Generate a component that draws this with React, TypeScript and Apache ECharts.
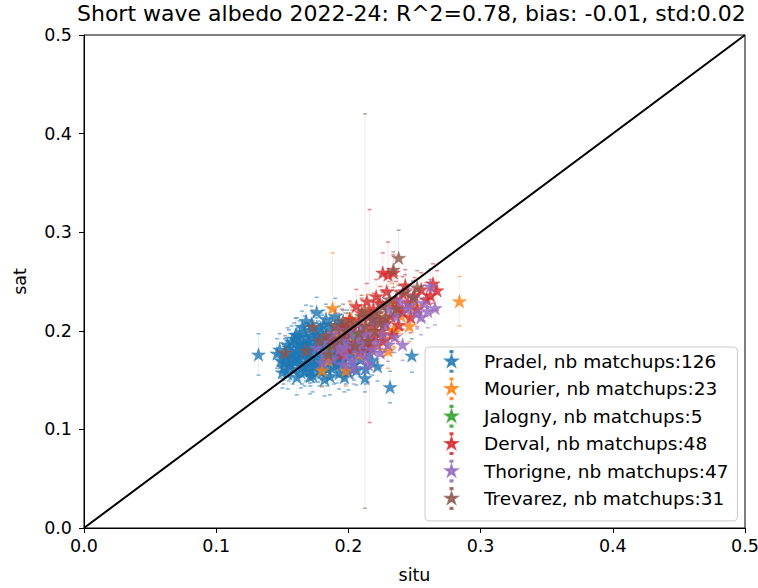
import React, { useEffect, useRef } from "react";
import * as echarts from "echarts";

// [situ, sat, yerr]
const PRADEL: number[][] = [
  [0.132, 0.176, 0.021], [0.176, 0.219, 0.015], [0.151, 0.168, 0.018], [0.163, 0.194, 0.016], [0.248, 0.175, 0.017],
  [0.222, 0.164, 0.015], [0.2125, 0.152, 0.014], [0.2315, 0.143, 0.016], [0.171, 0.167, 0.02],
  [0.154, 0.157, 0.016], [0.161, 0.153, 0.018], [0.167, 0.159, 0.015], [0.173, 0.155, 0.017], [0.180, 0.158, 0.014], [0.186, 0.154, 0.019], [0.193, 0.157, 0.016],
  [0.151, 0.163, 0.017], [0.158, 0.161, 0.015], [0.165, 0.164, 0.018], [0.171, 0.160, 0.016], [0.177, 0.163, 0.015], [0.184, 0.161, 0.017], [0.191, 0.165, 0.018], [0.198, 0.162, 0.016],
  [0.149, 0.170, 0.018], [0.156, 0.167, 0.016], [0.162, 0.171, 0.015], [0.168, 0.166, 0.017], [0.175, 0.169, 0.016], [0.182, 0.172, 0.018], [0.189, 0.168, 0.015], [0.196, 0.171, 0.017], [0.204, 0.166, 0.016],
  [0.153, 0.176, 0.017], [0.159, 0.173, 0.015], [0.166, 0.177, 0.018], [0.172, 0.174, 0.016], [0.179, 0.178, 0.017], [0.186, 0.175, 0.015], [0.193, 0.177, 0.016], [0.200, 0.174, 0.018], [0.209, 0.171, 0.015],
  [0.148, 0.181, 0.016], [0.155, 0.183, 0.018], [0.161, 0.180, 0.015], [0.168, 0.184, 0.017], [0.174, 0.181, 0.016], [0.181, 0.185, 0.015], [0.188, 0.182, 0.018], [0.195, 0.186, 0.016], [0.203, 0.183, 0.017],
  [0.157, 0.189, 0.016], [0.163, 0.187, 0.018], [0.170, 0.190, 0.015], [0.177, 0.188, 0.017], [0.183, 0.192, 0.016], [0.190, 0.189, 0.018], [0.197, 0.193, 0.015],
  [0.160, 0.196, 0.017], [0.167, 0.199, 0.016], [0.173, 0.195, 0.015], [0.180, 0.198, 0.018], [0.187, 0.196, 0.016], [0.194, 0.200, 0.017], [0.201, 0.197, 0.015],
  [0.165, 0.204, 0.016], [0.172, 0.207, 0.018], [0.179, 0.203, 0.015], [0.186, 0.206, 0.017], [0.193, 0.209, 0.016],
  [0.183, 0.212, 0.015], [0.190, 0.215, 0.018],
  [0.158, 0.178, 0.015], [0.164, 0.182, 0.017], [0.170, 0.176, 0.016], [0.176, 0.172, 0.018], [0.163, 0.168, 0.015], [0.169, 0.172, 0.016], [0.175, 0.184, 0.017], [0.171, 0.186, 0.015],
  [0.160, 0.175, 0.018], [0.166, 0.187, 0.016], [0.177, 0.193, 0.017], [0.184, 0.179, 0.015], [0.157, 0.171, 0.016], [0.162, 0.185, 0.018], [0.168, 0.193, 0.015], [0.174, 0.165, 0.017],
  [0.180, 0.167, 0.016], [0.185, 0.170, 0.018], [0.190, 0.178, 0.015], [0.196, 0.180, 0.017], [0.200, 0.188, 0.016], [0.206, 0.179, 0.015], [0.211, 0.185, 0.018], [0.207, 0.192, 0.016],
  [0.215, 0.178, 0.017], [0.218, 0.170, 0.015], [0.213, 0.162, 0.016], [0.200, 0.158, 0.018], [0.206, 0.160, 0.015], [0.154, 0.186, 0.017], [0.159, 0.192, 0.016], [0.152, 0.174, 0.018],
  [0.146, 0.177, 0.015], [0.150, 0.158, 0.016], [0.173, 0.201, 0.017], [0.181, 0.206, 0.015], [0.195, 0.206, 0.016], [0.199, 0.203, 0.018], [0.168, 0.210, 0.016], [0.187, 0.200, 0.015],
  [0.178, 0.160, 0.016], [0.189, 0.163, 0.017], [0.194, 0.168, 0.015], [0.171, 0.154, 0.018], [0.164, 0.158, 0.016], [0.182, 0.151, 0.017], [0.197, 0.153, 0.015], [0.155, 0.165, 0.016],
  [0.161, 0.196, 0.017], [0.192, 0.173, 0.018], [0.202, 0.177, 0.015], [0.188, 0.186, 0.016], [0.176, 0.196, 0.017], [0.169, 0.180, 0.015],
];

const MOURIER: number[][] = [
  [0.284, 0.230, 0.025], [0.188, 0.223, 0.056], [0.226, 0.211, 0.018], [0.234, 0.201, 0.017], [0.233, 0.228, 0.02],
  [0.235, 0.199, 0.016], [0.218, 0.195, 0.018], [0.205, 0.190, 0.017], [0.196, 0.178, 0.016], [0.185, 0.170, 0.018],
  [0.212, 0.205, 0.017], [0.222, 0.185, 0.016], [0.240, 0.215, 0.018], [0.228, 0.192, 0.017], [0.198, 0.160, 0.016],
  [0.180, 0.160, 0.017], [0.208, 0.176, 0.018], [0.246, 0.205, 0.016], [0.215, 0.220, 0.017], [0.192, 0.198, 0.016],
  [0.230, 0.180, 0.018], [0.250, 0.225, 0.017], [0.202, 0.212, 0.016],
];

const JALOGNY: number[][] = [
  [0.195, 0.185, 0.016], [0.205, 0.195, 0.017], [0.185, 0.180, 0.015], [0.210, 0.188, 0.016], [0.200, 0.200, 0.018],
];

const DERVAL: number[][] = [
  [0.230, 0.257, 0.033], [0.226, 0.259, 0.02], [0.264, 0.248, 0.02], [0.267, 0.241, 0.02], [0.241, 0.219, 0.018],
  [0.237, 0.224, 0.017], [0.234, 0.259, 0.018], [0.216, 0.215, 0.108],
  [0.222, 0.212, 0.017], [0.218, 0.205, 0.016], [0.225, 0.200, 0.018], [0.212, 0.198, 0.017], [0.208, 0.210, 0.016],
  [0.203, 0.203, 0.018], [0.198, 0.195, 0.017], [0.214, 0.190, 0.016], [0.220, 0.194, 0.018], [0.228, 0.208, 0.017],
  [0.232, 0.215, 0.016], [0.236, 0.232, 0.018], [0.241, 0.238, 0.017], [0.245, 0.228, 0.016], [0.250, 0.236, 0.018],
  [0.255, 0.242, 0.017], [0.243, 0.246, 0.016], [0.229, 0.240, 0.018], [0.224, 0.228, 0.017], [0.219, 0.222, 0.016],
  [0.210, 0.218, 0.018], [0.205, 0.188, 0.017], [0.200, 0.182, 0.016], [0.195, 0.176, 0.018], [0.190, 0.186, 0.017],
  [0.186, 0.192, 0.016], [0.209, 0.180, 0.018], [0.217, 0.184, 0.017], [0.226, 0.190, 0.016], [0.233, 0.196, 0.018],
  [0.238, 0.206, 0.017], [0.247, 0.214, 0.016], [0.252, 0.222, 0.018], [0.259, 0.232, 0.017], [0.262, 0.236, 0.016],
  [0.214, 0.230, 0.018], [0.206, 0.225, 0.017], [0.196, 0.205, 0.016], [0.201, 0.212, 0.018], [0.221, 0.235, 0.017],
];

const THORIGNE: number[][] = [
  [0.241, 0.186, 0.016], [0.2655, 0.223, 0.017], [0.262, 0.245, 0.018], [0.247, 0.226, 0.017], [0.252, 0.218, 0.016],
  [0.257, 0.228, 0.018], [0.249, 0.234, 0.017], [0.244, 0.222, 0.016], [0.255, 0.214, 0.018], [0.260, 0.220, 0.017],
  [0.239, 0.230, 0.016], [0.236, 0.215, 0.018], [0.231, 0.222, 0.017],
  [0.182, 0.178, 0.016], [0.188, 0.172, 0.018], [0.193, 0.181, 0.017], [0.198, 0.175, 0.016], [0.203, 0.170, 0.018],
  [0.208, 0.178, 0.017], [0.213, 0.173, 0.016], [0.218, 0.181, 0.018], [0.200, 0.186, 0.017], [0.195, 0.190, 0.016],
  [0.190, 0.184, 0.018], [0.185, 0.188, 0.017], [0.206, 0.193, 0.016], [0.211, 0.187, 0.018], [0.216, 0.195, 0.017],
  [0.221, 0.188, 0.016], [0.226, 0.196, 0.018], [0.196, 0.166, 0.017], [0.204, 0.162, 0.016], [0.180, 0.168, 0.018],
  [0.187, 0.196, 0.017], [0.201, 0.199, 0.016], [0.210, 0.204, 0.018], [0.219, 0.210, 0.017], [0.227, 0.206, 0.016],
  [0.176, 0.183, 0.018], [0.192, 0.201, 0.017], [0.224, 0.178, 0.016], [0.215, 0.166, 0.018], [0.230, 0.186, 0.017],
  [0.235, 0.194, 0.016], [0.207, 0.185, 0.018], [0.212, 0.197, 0.017], [0.197, 0.183, 0.016],
];

const TREVAREZ: number[][] = [
  [0.238, 0.274, 0.028], [0.2126, 0.220, 0.2], [0.234, 0.262, 0.018], [0.252, 0.244, 0.017], [0.249, 0.234, 0.016],
  [0.173, 0.204, 0.017], [0.213, 0.205, 0.016], [0.208, 0.198, 0.018], [0.218, 0.212, 0.017], [0.203, 0.208, 0.016],
  [0.198, 0.200, 0.018], [0.222, 0.218, 0.017], [0.226, 0.225, 0.016], [0.231, 0.232, 0.018], [0.243, 0.240, 0.017],
  [0.193, 0.192, 0.016], [0.188, 0.186, 0.018], [0.183, 0.195, 0.017], [0.178, 0.190, 0.016], [0.168, 0.180, 0.018],
  [0.152, 0.178, 0.017], [0.205, 0.185, 0.016], [0.215, 0.190, 0.018], [0.220, 0.200, 0.017], [0.228, 0.214, 0.016],
  [0.236, 0.222, 0.018], [0.196, 0.210, 0.017], [0.190, 0.205, 0.016], [0.210, 0.215, 0.018], [0.224, 0.208, 0.017],
  [0.185, 0.176, 0.016],
];

const STATION_NAMES = [
  "Pradel, nb matchups:126",
  "Mourier, nb matchups:23",
  "Jalogny, nb matchups:5",
  "Derval, nb matchups:48",
  "Thorigne, nb matchups:47",
  "Trevarez, nb matchups:31",
];
const STATION_DATA = [PRADEL, MOURIER, JALOGNY, DERVAL, THORIGNE, TREVAREZ];
const COLORS = ["#1f77b4", "#ff7f0e", "#2ca02c", "#d62728", "#9467bd", "#8c564b"];

const DIAGONAL = [[0, 0], [0.5, 0.5]];
const TITLE = "Short wave albedo 2022-24: R^2=0.78, bias: -0.01, std:0.02";

const STAR_D = "M100,0L122.45,69.1L195.11,69.1L136.33,111.8L158.78,180.9L100,138.2L41.22,180.9L63.67,111.8L4.89,69.1L77.55,69.1Z";
const STAR = "path://" + STAR_D;
const LEGEND_ICON = "path://" + STAR_D + "M82,-80L118,-80L118,-60L82,-60ZM82,260L118,260L118,280L82,280Z";

const FONT = "DejaVu Sans";

export default function App() {
  const ref = useRef<HTMLDivElement>(null);
  useEffect(() => {
    if (!ref.current) return;
    const chart = echarts.init(ref.current, null, { renderer: "svg" });

    const series: any[] = [];
    STATION_NAMES.forEach((name, i) => {
      const color = COLORS[i];
      series.push({
        type: "custom",
        name: name + " err",
        silent: true,
        data: STATION_DATA[i],
        encode: { x: 0, y: 1 },
        renderItem: (params: any, api: any) => {
          const x = api.value(0);
          const y = api.value(1);
          const e = api.value(2);
          const top = api.coord([x, y + e]);
          const bot = api.coord([x, y - e]);
          const cx = top[0];
          return {
            type: "group",
            children: [
              { type: "line", shape: { x1: cx, y1: top[1], x2: cx, y2: bot[1] }, style: { stroke: color, lineWidth: 1, opacity: 0.12 } },
              { type: "line", shape: { x1: cx - 2, y1: top[1], x2: cx + 2, y2: top[1] }, style: { stroke: color, lineWidth: 1.5, opacity: 0.55 } },
              { type: "line", shape: { x1: cx - 2, y1: bot[1], x2: cx + 2, y2: bot[1] }, style: { stroke: color, lineWidth: 1.5, opacity: 0.55 } },
            ],
          };
        },
      });
      series.push({
        type: "scatter",
        name,
        data: STATION_DATA[i].map((d) => [d[0], d[1]]),
        symbol: STAR,
        symbolSize: 14,
        symbolKeepAspect: true,
        itemStyle: { color, borderColor: color, borderWidth: 0.5 },
      });
    });
    series.push({
      type: "line",
      name: "diag",
      data: DIAGONAL,
      symbol: "none",
      silent: true,
      lineStyle: { color: "#000", width: 2 },
      z: 5,
    });

    const axisCommon = {
      type: "value",
      min: 0,
      max: 0.5,
      interval: 0.1,
      splitLine: { show: false },
      axisLine: { show: true, onZero: false, lineStyle: { color: "#000", width: 1 } },
      axisTick: { show: true, inside: false, length: 5, lineStyle: { color: "#000" } },
      axisLabel: {
        color: "#000",
        fontFamily: FONT,
        fontSize: 17.5,
        formatter: (v: number) => v.toFixed(1),
      },
      nameLocation: "middle",
      nameTextStyle: { color: "#000", fontFamily: FONT, fontSize: 17.5 },
    };

    chart.setOption({
      animation: false,
      backgroundColor: "#fff",
      title: {
        text: TITLE,
        left: 77,
        top: 0,
        padding: [2, 0, 0, 0],
        textStyle: { color: "#000", fontFamily: FONT, fontSize: 22, fontWeight: "normal" },
      },
      grid: {
        left: 84, right: 13, top: 35, bottom: 60,
        outerBoundsMode: "none",
        containLabel: false,
        show: true, borderColor: "#000", borderWidth: 1, backgroundColor: "transparent",
      },
      xAxis: { ...axisCommon, name: "situ", nameGap: 38, axisLabel: { ...axisCommon.axisLabel, margin: 9 } },
      yAxis: { ...axisCommon, name: "sat", nameGap: 55, axisLabel: { ...axisCommon.axisLabel, margin: 12 } },
      legend: {
        data: STATION_NAMES.map((n) => ({ name: n, icon: LEGEND_ICON })),
        orient: "vertical",
        left: 425,
        top: 347,
        itemWidth: 11,
        itemHeight: 21,
        itemGap: 4.6,
        symbolKeepAspect: true,
        padding: [3, 9, 11, 20],
        backgroundColor: "rgba(255,255,255,0.8)",
        borderColor: "#cccccc",
        borderWidth: 1,
        borderRadius: 4,
        selectedMode: false,
        textStyle: { color: "#000", fontFamily: FONT, fontSize: 18.5, padding: [0, 0, 0, 22] },
      },
      series,
    });
    return () => chart.dispose();
  }, []);
  return <div ref={ref} style={{ position: "absolute", left: 0, top: 0, width: 758, height: 588 }} />;
}
